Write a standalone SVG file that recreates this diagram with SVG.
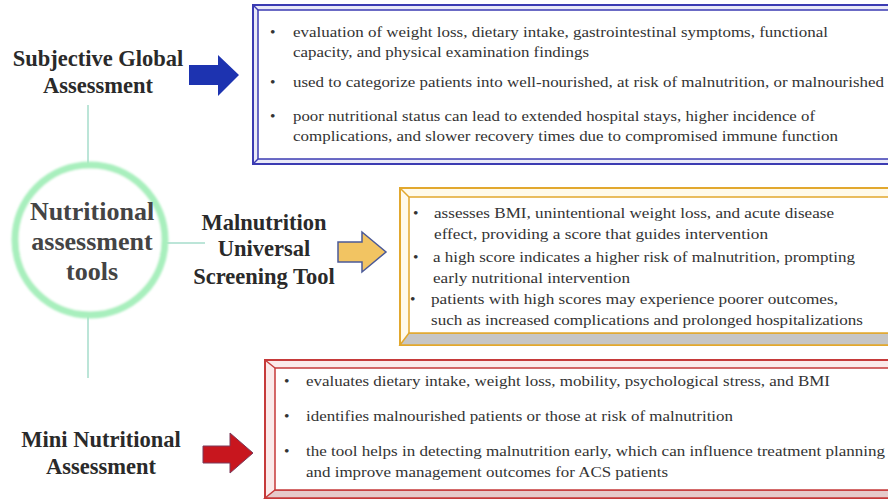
<svg xmlns="http://www.w3.org/2000/svg" width="888" height="499" viewBox="0 0 888 499">
<defs>
<style>
.lbl{font-family:"Liberation Serif","Times New Roman",serif;font-weight:bold;font-size:22.5px;fill:#2a2a2a;text-anchor:middle}
.hub{font-family:"Liberation Serif","Times New Roman",serif;font-weight:bold;font-size:26px;fill:#444444;text-anchor:middle}
.txt{font-family:"Liberation Serif","Times New Roman",serif;font-size:15.5px;fill:#333}
.con{stroke:#a6dccb;stroke-width:1.5;fill:none}
</style>
<filter id="soft" x="-20%" y="-20%" width="140%" height="140%"><feGaussianBlur stdDeviation="1.2"/></filter>
</defs>
<rect width="888" height="499" fill="#ffffff"/>

<g id="connectors">
<line class="con" x1="88" y1="105" x2="88" y2="166"/>
<line class="con" x1="88" y1="314" x2="88" y2="378"/>
<line class="con" x1="164" y1="243" x2="205" y2="243"/>
</g>

<g id="hub">
<circle cx="90" cy="240" r="75" fill="#ffffff" stroke="#a8efbd" stroke-width="7" filter="url(#soft)"/>
<text class="hub" x="92" y="220">Nutritional</text>
<text class="hub" x="92" y="250">assessment</text>
<text class="hub" x="92" y="280">tools</text>
</g>

<g id="sga">
<text class="lbl" x="98" y="66">Subjective Global</text>
<text class="lbl" x="98" y="93">Assessment</text>
<polygon points="189,65 218,65 218,55 239,75 218,96 218,85 189,85" fill="#1d33b0"/>
<rect x="253" y="5" width="660" height="159" fill="#e9e9f8" stroke="#3b3bb2" stroke-width="2"/>
<rect x="258" y="10" width="650" height="149" fill="#ffffff" stroke="#3b3bb2" stroke-width="1.5"/>
<line x1="253" y1="5" x2="258" y2="10" stroke="#3b3bb2" stroke-width="1.5"/>
<line x1="253" y1="164" x2="258" y2="159" stroke="#3b3bb2" stroke-width="1.5"/>
<g class="txt">
<text x="270" y="37">•</text>
<text x="293" y="37" textLength="535" lengthAdjust="spacingAndGlyphs">evaluation of weight loss, dietary intake, gastrointestinal symptoms, functional</text>
<text x="293" y="57" textLength="296" lengthAdjust="spacingAndGlyphs">capacity, and physical examination findings</text>
<text x="270" y="87">•</text>
<text x="293" y="87" textLength="591" lengthAdjust="spacingAndGlyphs">used to categorize patients into well-nourished, at risk of malnutrition, or malnourished</text>
<text x="270" y="121">•</text>
<text x="293" y="121" textLength="522" lengthAdjust="spacingAndGlyphs">poor nutritional status can lead to extended hospital stays, higher incidence of</text>
<text x="293" y="141" textLength="545" lengthAdjust="spacingAndGlyphs">complications, and slower recovery times due to compromised immune function</text>
</g>
</g>

<g id="must">
<text class="lbl" x="264" y="230">Malnutrition</text>
<text class="lbl" x="264" y="256">Universal</text>
<text class="lbl" x="264" y="284">Screening Tool</text>
<polygon points="338,242 362,242 362,232 386,252 362,272 362,262 338,262" fill="#f2c462" stroke="#4b5a98" stroke-width="1.5"/>
<rect x="400" y="188" width="510" height="157" fill="#fffaea" stroke="#e2a82e" stroke-width="2"/>
<polygon points="400,345 409,333 910,333 910,345" fill="#c6c6c6" stroke="#e2a82e" stroke-width="1.5"/>
<rect x="409" y="197" width="500" height="136" fill="#ffffff" stroke="#e2a82e" stroke-width="1.5"/>
<line x1="400" y1="188" x2="409" y2="197" stroke="#e2a82e" stroke-width="1.5"/>
<g class="txt">
<text x="413" y="218">•</text>
<text x="434" y="218" textLength="400" lengthAdjust="spacingAndGlyphs">assesses BMI, unintentional weight loss, and acute disease</text>
<text x="434" y="239" textLength="334" lengthAdjust="spacingAndGlyphs">effect, providing a score that guides intervention</text>
<text x="413" y="262">•</text>
<text x="433" y="262" textLength="422" lengthAdjust="spacingAndGlyphs">a high score indicates a higher risk of malnutrition, prompting</text>
<text x="433" y="283" textLength="197" lengthAdjust="spacingAndGlyphs">early nutritional intervention</text>
<text x="410" y="304">•</text>
<text x="431" y="304" textLength="407" lengthAdjust="spacingAndGlyphs">patients with high scores may experience poorer outcomes,</text>
<text x="431" y="325" textLength="432" lengthAdjust="spacingAndGlyphs">such as increased complications and prolonged hospitalizations</text>
</g>
</g>

<g id="mna">
<text class="lbl" x="101" y="447">Mini Nutritional</text>
<text class="lbl" x="101" y="474">Assessment</text>
<polygon points="203,446 230,446 230,433 253,453 230,473 230,463 203,463" fill="#c8161e" stroke="#7a3a5a" stroke-width="1"/>
<rect x="265" y="360" width="650" height="138" fill="#fbeaea" stroke="#c63a3a" stroke-width="2"/>
<polygon points="265,498 275,490 915,490 915,498" fill="#e6caca" stroke="#c63a3a" stroke-width="1.5"/>
<rect x="275" y="368" width="640" height="122" fill="#ffffff" stroke="#c63a3a" stroke-width="1.5"/>
<line x1="265" y1="360" x2="275" y2="368" stroke="#c63a3a" stroke-width="1.5"/>
<g class="txt">
<text x="284" y="386">•</text>
<text x="306" y="386" textLength="524" lengthAdjust="spacingAndGlyphs">evaluates dietary intake, weight loss, mobility, psychological stress, and BMI</text>
<text x="284" y="421">•</text>
<text x="306" y="421" textLength="427" lengthAdjust="spacingAndGlyphs">identifies malnourished patients or those at risk of malnutrition</text>
<text x="284" y="456">•</text>
<text x="306" y="456" textLength="579" lengthAdjust="spacingAndGlyphs">the tool helps in detecting malnutrition early, which can influence treatment planning</text>
<text x="306" y="477" textLength="362" lengthAdjust="spacingAndGlyphs">and improve management outcomes for ACS patients</text>
</g>
</g>
</svg>
